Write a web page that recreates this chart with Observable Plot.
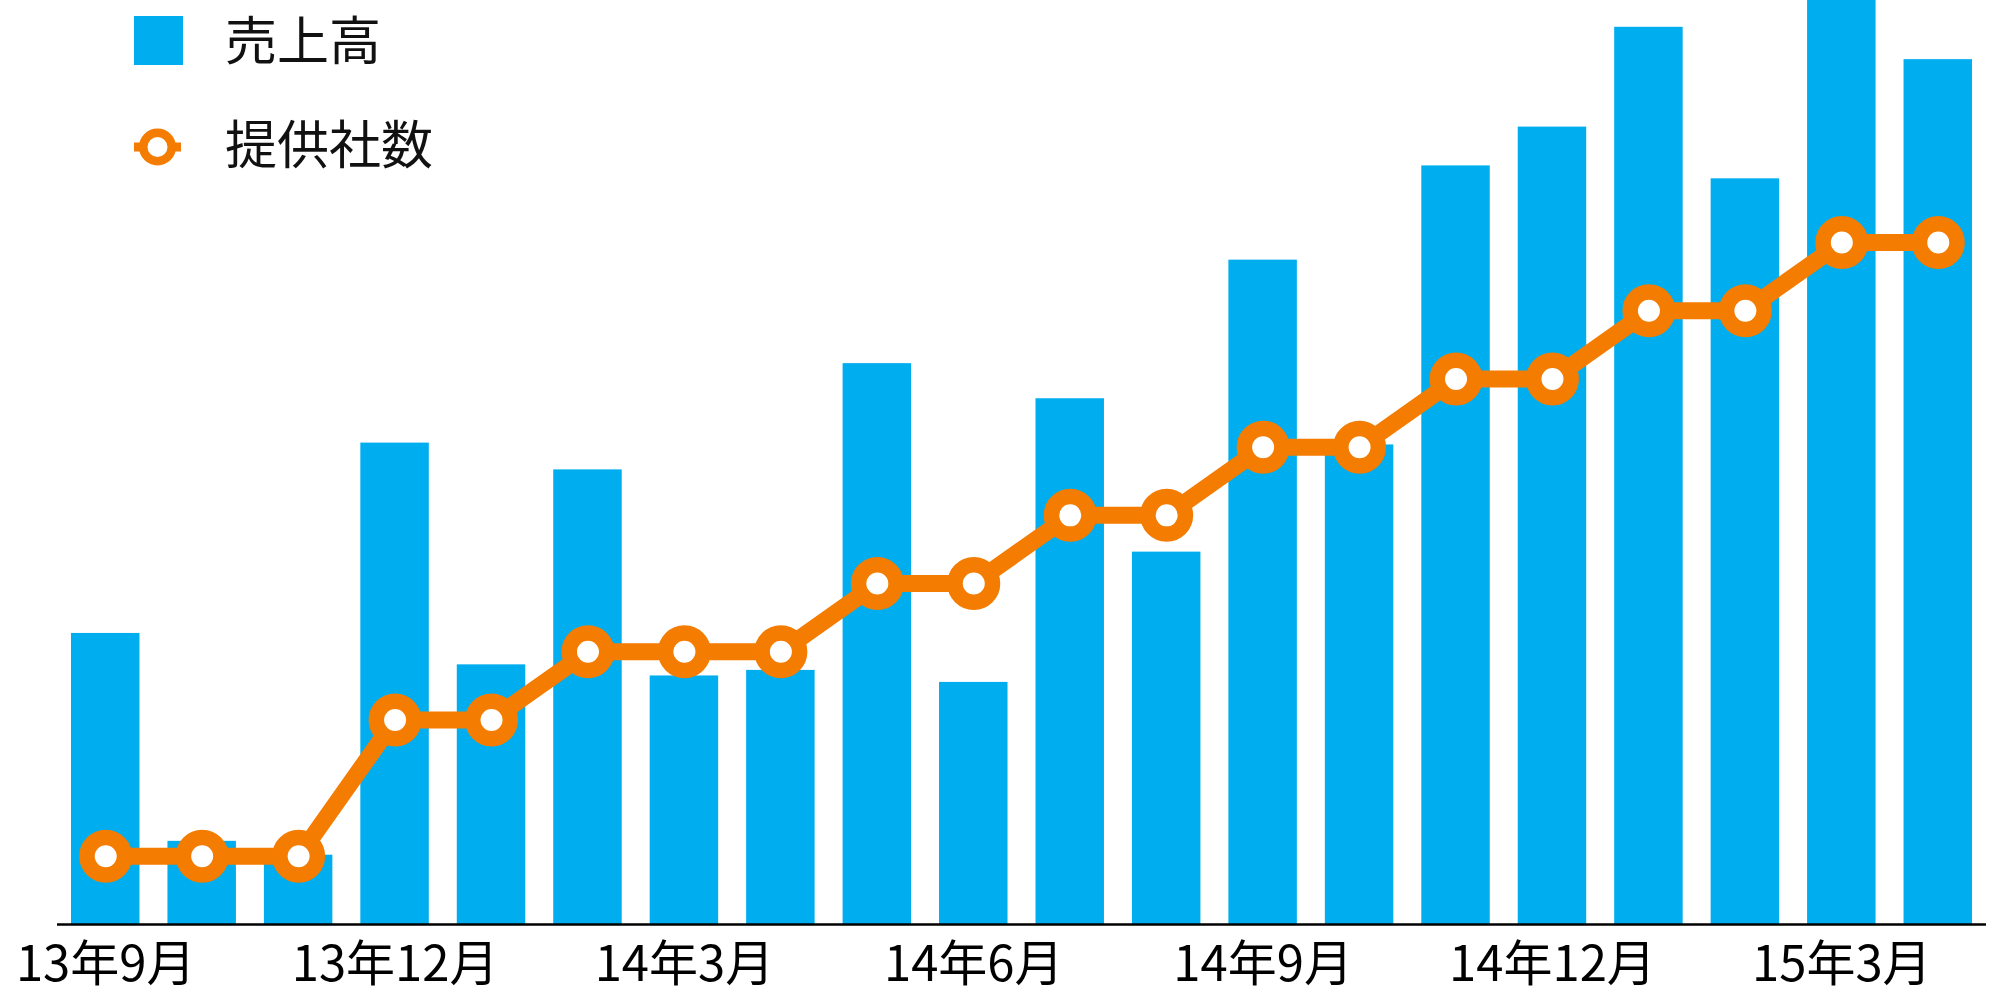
<!DOCTYPE html>
<html>
<head>
<meta charset="utf-8">
<script src="https://cdn.jsdelivr.net/npm/d3@7"></script>
<script src="https://cdn.jsdelivr.net/npm/@observablehq/plot@0.6"></script>
<style>
  html, body { margin: 0; padding: 0; background: #fff; }
  #wrap { position: relative; width: 1998px; height: 996px; overflow: hidden; }
  .legend { position: absolute; left: 0; top: 0; font-family: "Noto Sans CJK JP", sans-serif; color: #111; }
  .item { position: absolute; font-size: 52px; line-height: 76px; white-space: nowrap; }
</style>
</head>
<body>
<div id="wrap"></div>
<script>
// ---- data ----
const months = ["2013-09","2013-10","2013-11","2013-12","2014-01","2014-02","2014-03","2014-04","2014-05","2014-06",
                "2014-07","2014-08","2014-09","2014-10","2014-11","2014-12","2015-01","2015-02","2015-03","2015-04"];
const tickKeys = ["2013-09","2013-12","2014-03","2014-06","2014-09","2014-12","2015-03"];
const tickLabels = ["13年9月","13年12月","14年3月","14年6月","14年9月","14年12月","15年3月"];
const sales = [31.5, 9.0, 7.5, 52.1, 28.1, 49.2, 26.9, 27.5, 60.7, 26.2,
               56.9, 40.3, 71.9, 51.9, 82.1, 86.3, 97.1, 80.7, 100, 93.6];
const companies = [1, 1, 1, 3, 3, 4, 4, 4, 5, 5, 6, 6, 7, 7, 8, 8, 9, 9, 10, 10];
const seriesNames = ["売上高", "提供社数"];

const salesMax = 100;       // top of bar axis
const companiesMax = 13.55; // top of line axis (secondary)
const ratio = salesMax / companiesMax;

const blue = "#00AEEF";
const orange = "#F47C00";

const rows = months.map((m, i) => ({month: m, sales: sales[i], companies: companies[i]}));
const labelOf = new Map(tickKeys.map((k, i) => [k, tickLabels[i]]));

const chart = Plot.plot({
  width: 1998,
  height: 996,
  marginTop: 0,
  marginBottom: 72,
  marginLeft: 57,
  marginRight: 12,
  style: {fontFamily: "'Noto Sans CJK JP', sans-serif", background: "#fff", color: "#000"},
  x: {domain: months, paddingInner: 0.29, paddingOuter: 0.145, round: false, axis: null},
  y: {domain: [0, salesMax], axis: null},
  marks: [
    Plot.barY(rows, {x: "month", y: "sales", fill: blue}),
    Plot.lineY(rows, {x: "month", y: d => d.companies * ratio, stroke: orange, strokeWidth: 17, strokeLinejoin: "miter"}),
    Plot.dot(rows, {x: "month", y: d => d.companies * ratio, r: 18.75, stroke: orange, strokeWidth: 15.5, fill: "#fff"}),
    Plot.ruleY([0], {stroke: "#000", strokeWidth: 2.5}),
    Plot.axisX({ticks: tickKeys, tickFormat: d => labelOf.get(d), tickSize: 0, tickPadding: 22, fontSize: 49, fill: "#000", anchor: "bottom", label: null})
  ]
});

const wrap = document.getElementById("wrap");
wrap.appendChild(chart);

const legend = document.createElement("div");
legend.className = "legend";
legend.innerHTML = `
  <div style="position:absolute;left:134px;top:16px;width:49px;height:49px;background:${blue}"></div>
  <div class="item" style="left:225px;top:0px">${seriesNames[0]}</div>
  <svg style="position:absolute;left:134px;top:128px" width="47" height="38">
    <line x1="0" x2="47" y1="19" y2="19" stroke="${orange}" stroke-width="9"/>
    <circle cx="23.5" cy="19" r="14.25" fill="#fff" stroke="${orange}" stroke-width="8.5"/>
  </svg>
  <div class="item" style="left:225px;top:104px">${seriesNames[1]}</div>
`;
wrap.appendChild(legend);
</script>
</body>
</html>
